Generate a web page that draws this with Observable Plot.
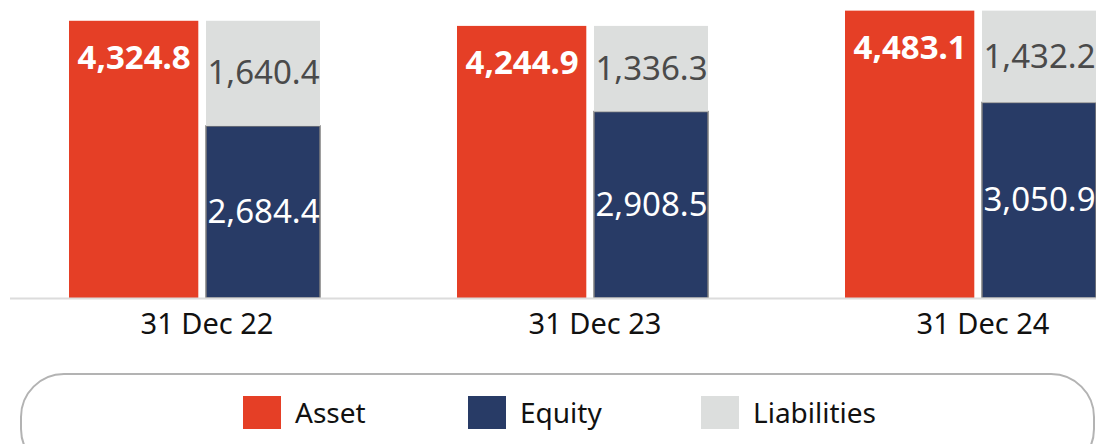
<!DOCTYPE html>
<html>
<head>
<meta charset="utf-8">
<script src="https://cdn.jsdelivr.net/npm/d3@7"></script>
<script src="https://cdn.jsdelivr.net/npm/@observablehq/plot@0.6"></script>
<style>
  html, body { margin: 0; padding: 0; background: #fff; }
  body { width: 1096px; height: 444px; overflow: hidden; font-family: "Noto Sans", sans-serif; }
  #legend {
    position: absolute; left: 20px; top: 373px; width: 1075px; height: 100px;
    border: 2px solid #b3b3b3; border-radius: 44px; box-sizing: border-box;
  }
  .item { position: absolute; top: 18px; display: flex; align-items: center; font-size: 28px; color: #111; }
  .sw { width: 38px; height: 33px; margin-right: 14px; }
</style>
</head>
<body>
<div id="chart"></div>
<div id="legend"></div>
<script>
const dates = ["31 Dec 22", "31 Dec 23", "31 Dec 24"];
const asset = [4324.8, 4244.9, 4483.1];
const equity = [2684.4, 2908.5, 3050.9];
const liabilities = [1640.4, 1336.3, 1432.2];
const seriesNames = ["Asset", "Equity", "Liabilities"];
const seriesColors = ["#E53F26", "#283B66", "#DCDEDD"];

const fmt = d3.format(",.1f");
const assetRows = dates.map((d, i) => ({date: d, value: asset[i]}));
const stackRows = [];
dates.forEach((d, i) => {
  stackRows.push({date: d, series: "Equity", value: equity[i]});
  stackRows.push({date: d, series: "Liabilities", value: liabilities[i]});
});

const band = 250.7;      // approximate bandwidth used for insets
const assetW = 129;
const stackL = 137;

const chart = Plot.plot({
  width: 1096,
  height: 360,
  marginTop: 0,
  marginBottom: 62,
  marginLeft: 69,
  marginRight: 0,
  style: {fontFamily: "Noto Sans", background: "transparent"},
  x: {domain: dates, paddingInner: 0.354, paddingOuter: 0, axis: null},
  y: {domain: [0, 4649], axis: null},
  color: {domain: seriesNames, range: seriesColors},
  marks: [
    Plot.barY(assetRows, {x: "date", y: "value", fill: seriesColors[0], insetLeft: 0, insetRight: band - assetW}),
    Plot.barY(stackRows, Plot.stackY({
      x: "date", y: "value", z: "series", fill: "series",
      stroke: "#7f7f7f", strokeWidth: 1.5,
      strokeOpacity: d => d.series === "Equity" ? 1 : 0,
      insetLeft: stackL, insetRight: 0
    })),
    Plot.ruleY([0], {stroke: "#dcdcdc", strokeWidth: 2, insetLeft: -59}),
    Plot.text(assetRows, {
      x: "date", y: "value", text: d => fmt(d.value),
      dx: -(band / 2 - assetW / 2), dy: 37,
      fill: "white", fontWeight: "bold", fontSize: 33
    }),
    Plot.text(stackRows, Plot.stackY({
      x: "date", y: "value", z: "series", text: d => fmt(d.value),
      dx: stackL + (band - stackL) / 2 - band / 2,
      fill: d => d.series === "Equity" ? "#ffffff" : "#4a4a4a",
      fontSize: 33
    })),
    Plot.axisX({anchor: "bottom", tickSize: 0, tickPadding: 15, fontSize: 29, dx: 12, label: null, fill: "#111"})
  ]
});
document.getElementById("chart").appendChild(chart);

const legend = document.getElementById("legend");
const lefts = [243, 468, 701];
seriesNames.forEach((name, i) => {
  const it = document.createElement("div");
  it.className = "item";
  it.style.left = (lefts[i] - 22) + "px";
  const sw = document.createElement("div");
  sw.className = "sw";
  sw.style.background = seriesColors[i];
  const t = document.createElement("span");
  t.textContent = name;
  it.appendChild(sw);
  it.appendChild(t);
  legend.appendChild(it);
});
</script>
</body>
</html>
